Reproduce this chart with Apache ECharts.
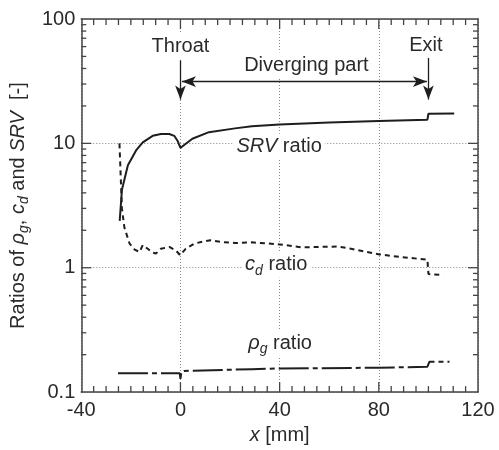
<!DOCTYPE html>
<html>
<head>
<meta charset="utf-8">
<script src="https://cdn.jsdelivr.net/npm/echarts@6/dist/echarts.min.js"></script>
<style>html,body{margin:0;padding:0;background:#fff}#c{width:499px;height:450px}</style>
</head>
<body>
<div id="c"></div>
<script>
// ---- data ----
const srvRatio = [[-24.5,2.38],[-23.6,4.24],[-21.2,6.67],[-17.9,8.77],[-15.2,10.2],[-11.2,11.5],[-7.9,11.9],[-4.5,11.9],[-2.5,11.5],[-1.2,10.5],[0,9.2],[1.5,9.7],[4.8,10.9],[11.5,12.3],[22,13.2],[28.8,13.7],[40,14.2],[60,14.7],[80,15.1],[99.6,15.5],[100,17.3],[110.4,17.4]];
const cdRatio = [[-24.6,10],[-23.6,3.0],[-22.6,2.1],[-20.5,1.56],[-18.5,1.40],[-16.5,1.34],[-15.2,1.52],[-13.2,1.42],[-11.5,1.33],[-9.9,1.30],[-7.9,1.42],[-4.5,1.47],[-1.9,1.38],[-0.1,1.26],[2.1,1.42],[5.5,1.56],[8.8,1.62],[12.1,1.66],[16.8,1.61],[22,1.58],[28.8,1.60],[40,1.54],[48.8,1.46],[63.5,1.48],[68.8,1.42],[80.3,1.28],[88.8,1.22],[99.6,1.16],[100,0.89],[106,0.875]];
const rhoRatio = [[-25.2,0.142],[-0.3,0.142],[0,0.128],[0.4,0.146],[1.5,0.148],[28.8,0.153],[40,0.155],[80,0.157],[99.6,0.160],[100.4,0.175],[108.5,0.175]];
const xTicks = {min:-40, max:120, interval:40};
const xMajorTicks = [0,40,80];
const xMinorTicks = [-35,-30,-25,-20,-15,-10,-5,5,10,15,20,25,30,35,45,50,55,60,65,70,75,85,90,95,100,105,110,115];
const yRange = {min:0.1, max:100};
const yMajorTicks = [1,10];
const yMinorTicks = [0.2,0.3,0.4,0.5,0.6,0.7,0.8,0.9,2,3,4,5,6,7,8,9,20,30,40,50,60,70,80,90];
const annotations = [
  {text:'Throat', at:[0,60]},
  {text:'Diverging part', at:[50.8,42.5]},
  {text:'Exit', at:[99,61.7]},
  {text:'{i|SRV} ratio', at:[39.8,9.38]},
  {text:'{i|c}{s|d} ratio', at:[38.6,1.056]},
  {text:'{i|ρ}{s|g} ratio', at:[40.2,0.246]}
];
const arrows = [
  {from:[0,46.6], to:[0,22.5], both:false},
  {from:[100,49.2], to:[100,22.5], both:false},
  {from:[0.6,31.4], to:[99.4,31.4], both:true}
];
// ---------------------------------------

const FONT = "'Liberation Sans', Arial, sans-serif";
const TXT = '#2a2a2a';
const AX = '#444';
const TK = '#444';
const LINE = '#1e1e1e';
const rich = {
  i:{fontStyle:'italic', fontSize:20, fontFamily:FONT, color:TXT, lineHeight:26, verticalAlign:'middle'},
  s:{fontStyle:'italic', fontSize:14, fontFamily:FONT, color:TXT, lineHeight:14, verticalAlign:'bottom'},
  n:{fontSize:20, fontFamily:FONT, color:TXT, lineHeight:26, verticalAlign:'middle'}
};
function axLine(){ return {show:true, onZero:false, lineStyle:{color:AX, width:1.5}}; }

// tick list for a custom series: [x, y, kind(0 = x tick, 1 = y tick), major]
const tickItems = [];
xMajorTicks.forEach(v => tickItems.push([v, yRange.min, 0, 1]));
xMinorTicks.forEach(v => tickItems.push([v, yRange.min, 0, 0]));
yMajorTicks.forEach(v => tickItems.push([xTicks.min, v, 1, 1]));
yMinorTicks.forEach(v => tickItems.push([xTicks.min, v, 1, 0]));

function renderTick(params, api){
  const kind = api.value(2), major = api.value(3);
  const len = major ? 10 : 6;
  const style = {stroke:TK, lineWidth:1.3};
  if (kind === 0) {
    const b = api.coord([api.value(0), yRange.min]);
    const t = api.coord([api.value(0), yRange.max]);
    return {type:'group', children:[
      {type:'line', shape:{x1:b[0], y1:b[1], x2:b[0], y2:b[1]-len}, style:style},
      {type:'line', shape:{x1:t[0], y1:t[1], x2:t[0], y2:t[1]+len}, style:style}
    ]};
  }
  const l = api.coord([xTicks.min, api.value(1)]);
  const r = api.coord([xTicks.max, api.value(1)]);
  const ylen = major ? 10 : 5;
  return {type:'group', children:[
    {type:'line', shape:{x1:l[0], y1:l[1], x2:l[0]+ylen, y2:l[1]}, style:style},
    {type:'line', shape:{x1:r[0], y1:r[1], x2:r[0]-ylen, y2:r[1]}, style:style}
  ]};
}

const chart = echarts.init(document.getElementById('c'));
chart.setOption({
  animation:false,
  backgroundColor:'#fff',
  textStyle:{fontFamily:FONT},
  grid:{left:78, right:21, top:19, bottom:52},
  xAxis:[
    {type:'value', position:'bottom', min:xTicks.min, max:xTicks.max, interval:xTicks.interval,
     axisLine:axLine(), axisTick:{show:false},
     splitLine:{show:true, lineStyle:{color:'#888', type:[1,2], width:1}},
     axisLabel:{fontSize:20, color:TXT, margin:8, fontFamily:FONT},
     name:'{i|x} {n|[mm]}', nameLocation:'middle', nameGap:27,
     nameTextStyle:{rich:rich, fontSize:20, color:TXT}},
    {type:'value', position:'top', min:xTicks.min, max:xTicks.max, interval:xTicks.interval,
     axisLine:axLine(), axisTick:{show:false}, splitLine:{show:false}, axisLabel:{show:false}}
  ],
  yAxis:[
    {type:'log', logBase:10, position:'left', min:yRange.min, max:yRange.max,
     axisLine:axLine(), axisTick:{show:false},
     splitLine:{show:true, lineStyle:{color:'#888', type:[1,2], width:1}},
     axisLabel:{fontSize:20, color:TXT, margin:6, fontFamily:FONT},
     name:'{n|Ratios of }{i|ρ}{s|g}{n|, }{i|c}{s|d}{n| and }{i|SRV}{n|  [-]}',
     nameLocation:'middle', nameGap:41, nameRotate:90,
     nameTextStyle:{rich:rich, fontSize:20, color:TXT}},
    {type:'log', logBase:10, position:'right', min:yRange.min, max:yRange.max,
     axisLine:axLine(), axisTick:{show:false}, splitLine:{show:false}, axisLabel:{show:false}}
  ],
  series:[
    {name:'ticks', type:'custom', data:tickItems, xAxisIndex:0, yAxisIndex:0,
     renderItem:renderTick, clip:false, silent:true, z:20,
     encode:{x:0, y:1}},
    {name:'SRV', type:'line', data:srvRatio, xAxisIndex:0, yAxisIndex:0, symbol:'none',
     lineStyle:{color:LINE, width:2, type:'solid'},
     markLine:{symbol:['none','arrow'], symbolSize:[8,14], label:{show:false},
       lineStyle:{color:LINE, width:1.3, type:'solid'},
       data: arrows.map(a => [
         {coord:a.from, symbol:a.both ? 'arrow' : 'none'},
         {coord:a.to, symbol:'arrow'}
       ])},
     markPoint:{symbol:'rect', symbolSize:1, itemStyle:{color:'rgba(0,0,0,0)'},
       data: annotations.map(a => ({coord:a.at, value:0,
         label:{show:true, position:'inside', formatter:a.text.indexOf('{')<0 ? '{n|'+a.text+'}' : a.text.replace(/ ratio$/, '{n| ratio}'),
           rich:rich, backgroundColor:'#fff', padding:[0,3], color:TXT}}))}
    },
    {name:'cd', type:'line', data:cdRatio, xAxisIndex:0, yAxisIndex:0, symbol:'none',
     lineStyle:{color:LINE, width:2, type:[5,4]}},
    {name:'rho', type:'line', data:rhoRatio, xAxisIndex:0, yAxisIndex:0, symbol:'none',
     lineStyle:{color:LINE, width:2, type:[30,4,5,4]}}
  ]
});
</script>
</body>
</html>
